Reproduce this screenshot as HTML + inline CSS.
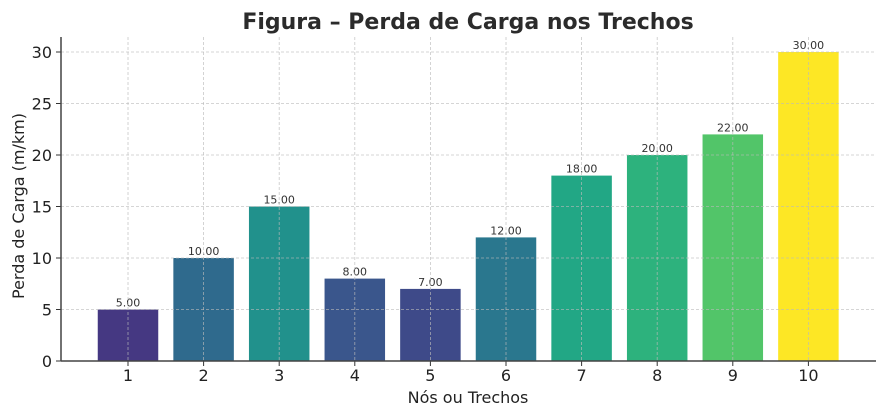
<!DOCTYPE html>
<html><head><meta charset="utf-8"><style>
body{margin:0;background:#fff;}
svg{display:block;font-family:"DejaVu Sans","Liberation Sans",sans-serif;}
</style></head><body>
<svg id="chart" width="886" height="417" viewBox="0 0 886 417">
<text x="468" y="29" text-anchor="middle" font-size="22" font-weight="bold" fill="#2b2b2b">Figura – Perda de Carga nos Trechos</text>
<text x="468" y="403" text-anchor="middle" font-size="16" fill="#222">Nós ou Trechos</text>
<text transform="translate(24,206) rotate(-90)" text-anchor="middle" font-size="16" fill="#222">Perda de Carga (m/km)</text>
<g id="bars"></g><g id="grid"></g><g id="axes"></g>
</svg>
<script>
const categories=["1","2","3","4","5","6","7","8","9","10"];
const values=[5,10,15,8,7,12,18,20,22,30];
const colors=["#453882","#2f6a8d","#21918c","#3a568c","#3e4a89","#2a778e","#22a785","#2db27d","#52c569","#fde725"];
const yTicks=[0,5,10,15,20,25,30];
const NS="http://www.w3.org/2000/svg";
const x0=61,x1=876,yBase=361,yTop=52;
const y=v=>yBase-(v/30)*(yBase-yTop);
const step=75.6;
const xc=i=>128+i*step;
const bw=60.5;
function mk(t,a,p){const e=document.createElementNS(NS,t);for(const k in a)e.setAttribute(k,a[k]);p.appendChild(e);return e;}
const bars=document.getElementById('bars'),grid=document.getElementById('grid'),axes=document.getElementById('axes');
values.forEach((v,i)=>{
 const r=mk('rect',{x:xc(i)-bw/2,y:y(v),width:bw,height:yBase-y(v),fill:colors[i]},bars);
 
 
 const t=mk('text',{x:xc(i),y:y(v)-3,'text-anchor':'middle','font-size':11,fill:'#333'},bars);
 t.textContent=v.toFixed(2);
 
 
 const g=mk('line',{x1:xc(i),x2:xc(i),y1:37,y2:yBase,stroke:'#bbb','stroke-width':0.8,'stroke-dasharray':'3,2',opacity:0.8},grid);
 
 
 const tk=mk('line',{x1:xc(i),x2:xc(i),y1:yBase,y2:yBase+5,stroke:'#333','stroke-width':1},axes);
 
 
 const tl=mk('text',{x:xc(i),y:yBase+20,'text-anchor':'middle','font-size':16,fill:'#222'},axes);
 tl.textContent=categories[i];
 
 
});
yTicks.forEach(v=>{
 const g=mk('line',{x1:x0,x2:x1,y1:y(v),y2:y(v),stroke:'#bbb','stroke-width':0.8,'stroke-dasharray':'3,2',opacity:0.8},grid);
 
 
 const tk=mk('line',{x1:x0-5,x2:x0,y1:y(v),y2:y(v),stroke:'#333','stroke-width':1},axes);
 
 
 const tl=mk('text',{x:x0-9,y:y(v)+6,'text-anchor':'end','font-size':16,fill:'#222'},axes);
 tl.textContent=v;
 
 
});
const ly=mk('line',{x1:x0,x2:x0,y1:37,y2:yBase,stroke:'#444','stroke-width':1.5},axes);


const lx=mk('line',{x1:x0,x2:x1,y1:yBase,y2:yBase,stroke:'#444','stroke-width':1.5},axes);


</script>
</body></html>
